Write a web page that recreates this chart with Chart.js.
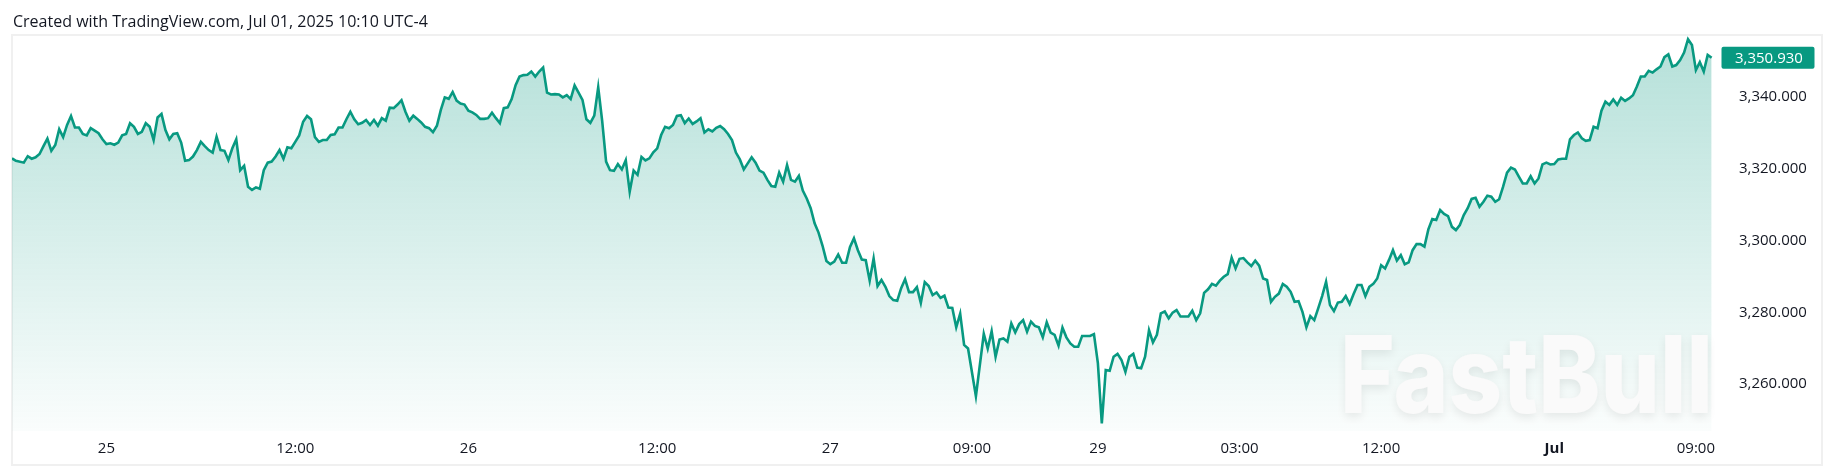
<!DOCTYPE html>
<html>
<head>
<meta charset="utf-8">
<script src="https://cdn.jsdelivr.net/npm/chart.js@4.4.1/dist/chart.umd.min.js"></script>
<style>
  html, body { margin: 0; padding: 0; background: #fff; }
  #wrap { position: relative; width: 1835px; height: 469px; }
  #chart { position: absolute; left: 0; top: 0; }
  #title { position: absolute; left: 13px; top: 10px; font: 16px "Open Sans", sans-serif; color: #131722; white-space: nowrap; }
</style>
</head>
<body>
<div id="wrap">
  <canvas id="chart" width="1835" height="469"></canvas>
  <div id="title">Created with TradingView.com, Jul 01, 2025 10:10 UTC-4</div>
</div>
<script>
// 15-minute closes, bar 0 = Jun 24 18:00 (ET session open), last bar = Jul 01 10:00
// null = bar not read off the picture
const prices = [
  3322.9, 3322.2, null, 3321.7, 3323.5, 3322.8, 3323.2, 3324.1, 3326.3, 3328.4, 3325.0, 3326.6, 3331.0, 3328.8, 3332.2, 3334.7,
  3331.5, 3331.5, 3329.7, 3329.3, 3331.3, 3330.6, 3329.9, 3328.2, 3326.9, 3327.1, 3326.7, 3327.3, 3329.3, 3329.7, 3332.7, 3331.7,
  3329.7, 3330.3, 3332.7, 3331.7, 3328.0, 3334.3, 3335.3, 3330.8, 3328.2, 3329.7, 3329.9, 3327.3, 3322.2, 3322.4, 3323.4, 3325.2,
  3327.5, 3326.3, 3325.2, 3324.5, 3328.9, 3325.2, 3325.0, 3322.4, 3325.7, 3328.2, 3319.6, 3320.8, 3315.0, 3314.1, 3314.8, 3314.4,
  3319.6, 3321.7, 3322.0, 3323.4, 3325.2, 3322.8, 3326.0, 3325.7, 3327.5, 3329.3, 3333.1, 3334.7, 3333.8, 3328.8, 3327.5, 3328.0,
  3328.0, 3329.4, 3329.6, 3331.5, 3331.5, 3333.8, 3335.9, 3333.8, 3332.4, 3332.8, 3333.6, 3332.2, 3333.6, 3332.0, 3334.1, 3333.4,
  3337.0, 3336.9, 3337.9, 3339.1, 3335.9, 3333.4, 3334.8, 3333.9, 3332.9, 3331.7, 3331.3, 3330.2, 3332.0, 3336.4, 3339.9, 3339.5,
  3341.4, 3339.0, 3338.2, 3337.9, 3336.2, 3335.7, 3335.0, 3333.9, 3333.9, 3334.1, 3335.6, 3334.1, 3332.7, 3336.9, 3337.1, 3339.4,
  3343.3, 3345.7, 3346.1, 3346.2, 3347.1, 3345.7, 3347.1, 3348.2, 3341.2, 3340.7, 3340.8, 3340.7, 3339.9, 3340.5, 3339.4, 3343.2,
  3341.2, 3339.2, 3333.8, 3332.8, 3334.8, 3342.7, 3333.4, 3322.0, 3319.6, 3319.4, 3321.3, 3319.8, 3322.4, 3313.6, 3319.5, 3318.3,
  3323.3, 3322.3, 3322.9, 3324.6, 3325.7, 3329.4, 3331.7, 3331.3, 3332.2, 3334.7, 3334.9, 3332.7, 3334.0, 3332.5, 3333.2, 3334.1,
  3330.1, 3331.0, 3330.4, 3331.4, 3331.9, 3331.0, 3329.7, 3328.0, 3324.5, 3322.6, 3319.8, 3321.5, 3323.2, 3321.7, 3319.5, 3318.9,
  3316.9, 3315.2, 3315.0, 3318.9, 3316.4, 3321.0, 3316.9, 3316.4, 3318.0, 3313.9, 3311.7, 3309.0, 3304.8, 3302.2, 3298.6, 3294.3,
  3293.4, 3294.1, 3296.1, 3293.8, 3293.8, 3298.2, 3300.6, 3297.3, 3294.7, 3294.5, 3288.8, 3295.0, 3287.3, 3289.0, 3287.1, 3284.5,
  3283.4, 3283.2, 3286.7, 3289.2, 3285.6, 3285.6, 3287.0, 3282.6, 3288.4, 3287.3, 3284.8, 3285.5, 3284.0, 3284.6, 3281.3, 3281.2,
  3275.8, 3279.6, 3270.9, 3269.9, null, 3256.6, null, 3274.0, 3269.9, 3274.7, 3267.6, 3272.4, 3272.7, 3271.8, 3276.9, 3274.4,
  3276.7, 3277.8, 3274.6, 3277.4, 3276.2, 3275.8, 3273.0, 3277.2, 3274.3, 3273.7, 3270.7, 3275.7, 3273.0, 3271.3, 3270.4, 3270.4,
  3273.4, 3273.4, 3273.4, 3273.9, 3265.8, 3249.0, 3263.9, 3263.7, 3267.6, 3268.4, 3266.7, 3263.4, 3267.6, 3268.4, 3264.6, 3264.4,
  3267.6, 3275.0, 3271.6, 3273.7, 3279.7, 3280.2, 3278.3, 3279.9, 3280.6, 3278.8, 3278.8, 3278.8, 3280.4, 3277.8, 3279.7, 3285.4,
  3286.4, 3287.9, 3287.4, 3288.8, 3289.9, 3290.6, 3295.2, 3292.2, 3294.9, 3295.1, 3293.9, 3292.9, 3294.4, 3293.0, 3289.4, 3289.0,
  3282.9, 3284.3, 3285.2, 3287.9, 3287.1, 3285.7, 3282.9, 3283.1, 3280.1, 3275.8, 3278.9, 3277.8, 3281.1, 3284.5, 3288.5, 3282.0,
  3280.3, 3282.7, 3282.9, 3284.5, 3282.3, 3285.1, 3287.6, 3287.6, 3284.5, 3287.1, 3287.9, 3289.4, 3293.1, 3292.2, 3294.6, 3297.3,
  3294.4, 3295.9, 3293.4, 3293.9, 3297.3, 3299.0, 3299.0, 3298.3, 3303.1, 3306.0, 3305.7, 3308.5, 3307.4, 3306.8, 3303.8, 3302.9,
  3304.3, 3307.1, 3309.0, 3311.6, 3311.9, 3309.4, 3310.8, 3312.5, 3312.2, 3310.8, 3311.5, 3315.0, 3318.9, 3320.3, 3319.8, 3317.8,
  3315.9, 3315.9, 3317.9, 3315.9, 3317.3, 3321.2, 3321.7, 3321.2, 3321.3, 3322.6, 3322.8, 3322.8, 3328.2, 3329.4, 3330.1, 3328.5,
  3327.8, 3328.0, 3331.7, 3331.3, 3336.2, 3338.7, 3337.8, 3339.3, 3337.8, 3339.8, 3338.9, 3339.6, 3340.5, 3342.9, 3345.7, 3345.7,
  3347.3, 3346.8, 3347.7, 3348.5, 3351.1, 3351.9, 3348.5, 3348.9, 3350.3, 3352.4, 3356.1, 3354.5, 3347.5, 3349.7, 3347.1, 3351.7,
  3350.93
];

// time axis: bar index of each label
const tickBars   = [24, 72, 116, 164, 208, 244, 276, 312, 348, 392, 428];
const tickLabels = ['25', '12:00', '26', '12:00', '27', '09:00', '29', '03:00', '12:00', 'Jul', '09:00'];

const priceTicks = [3260, 3280, 3300, 3320, 3340];
const yMin = 3246.9;
const yMax = 3357.0;

const GREEN = '#089981';
const TEXT = '#131722';
const FONT = '"Open Sans", sans-serif';
const lastPrice = prices[prices.length - 1];

const fmt = v => v.toLocaleString('en-US', { minimumFractionDigits: 3, maximumFractionDigits: 3 });

const points = [];
prices.forEach((v, i) => { if (v !== null) points.push({ x: i, y: v }); });

const frame = {
  id: 'frame',
  beforeDraw(chart) {
    const c = chart.ctx;
    c.save();
    c.strokeStyle = '#f0f0f0';
    c.lineWidth = 2;
    c.strokeRect(12, 35, 1810, 430);
    c.restore();
  }
};

// faint "FastBull" watermark, fitted into its box
const watermark = {
  id: 'watermark',
  afterDatasetsDraw(chart) {
    const c = chart.ctx;
    c.save();
    c.font = '800 100px Inter, "Open Sans", sans-serif';
    const m = c.measureText('FastBull');
    const capH = c.measureText('F').actualBoundingBoxAscent;
    c.translate(1340, 413);
    c.scale(373 / m.width, 78 / capH);
    c.shadowColor = 'rgba(0,0,0,0.08)';
    c.shadowBlur = 10;
    c.shadowOffsetY = 4;
    c.fillStyle = '#fafafa';
    c.fillText('FastBull', 0, 0);
    c.restore();
  }
};

const lastLabel = {
  id: 'lastLabel',
  afterDraw(chart) {
    const c = chart.ctx;
    const y = chart.scales.y.getPixelForValue(lastPrice);
    const x = chart.chartArea.right + 2;
    c.save();
    c.fillStyle = GREEN;
    c.beginPath();
    c.roundRect(x, y - 11, 93, 22, 2);
    c.fill();
    c.fillStyle = '#fff';
    c.font = '15px ' + FONT;
    c.textBaseline = 'middle';
    c.fillText(fmt(lastPrice), 1735, y + 1);
    c.restore();
  }
};

new Chart(document.getElementById('chart'), {
  type: 'line',
  data: {
    datasets: [{
      data: points,
      borderColor: GREEN,
      borderWidth: 2.6,
      pointRadius: 0,
      tension: 0,
      fill: 'start',
      backgroundColor: ctx => {
        const a = ctx.chart.chartArea;
        if (!a) return 'rgba(8,153,129,0.15)';
        const g = ctx.chart.ctx.createLinearGradient(0, a.top, 0, a.bottom);
        g.addColorStop(0, 'rgba(8,153,129,0.30)');
        g.addColorStop(1, 'rgba(8,153,129,0.02)');
        return g;
      }
    }]
  },
  options: {
    responsive: false,
    animation: false,
    events: [],
    layout: { padding: { left: 12, top: 36, right: 0, bottom: 4 } },
    plugins: { legend: { display: false }, tooltip: { enabled: false } },
    scales: {
      x: {
        type: 'linear',
        min: 0,
        max: 434,
        grid: { display: false },
        border: { display: false },
        afterBuildTicks: s => { s.ticks = tickBars.map(v => ({ value: v })); },
        afterFit: s => { s.height = 34; },
        ticks: {
          autoSkip: false,
          maxRotation: 0,
          padding: 1,
          color: TEXT,
          font: c => ({ family: FONT, size: 15, weight: tickLabels[c.index] === 'Jul' ? 'bold' : 'normal' }),
          callback: v => tickLabels[tickBars.indexOf(v)]
        }
      },
      y: {
        position: 'right',
        min: yMin,
        max: yMax,
        grid: { display: false },
        border: { display: false },
        afterBuildTicks: s => { s.ticks = priceTicks.map(v => ({ value: v })); },
        afterFit: s => { s.width = 115.5; },
        ticks: { padding: 11.5, color: TEXT, font: { family: FONT, size: 15 }, callback: v => fmt(v) }
      }
    }
  },
  plugins: [frame, watermark, lastLabel]
});
</script>
</body>
</html>
